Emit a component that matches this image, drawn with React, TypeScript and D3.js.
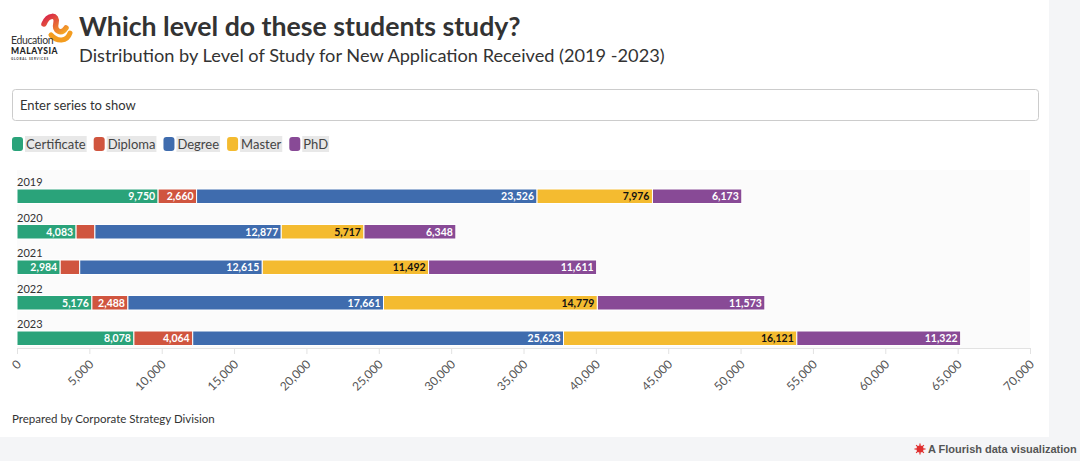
import React, { useEffect, useRef } from "react";
import * as d3 from "d3";

const years = ["2019", "2020", "2021", "2022", "2023"];
const seriesNames = ["Certificate", "Diploma", "Degree", "Master", "PhD"];
const seriesColors = ["#2aa37a", "#d0553f", "#3f6cae", "#f4bb30", "#884a96"];
const certificate = [9750, 4083, 2984, 5176, 8078];
const diploma = [2660, 1300, 1350, 2488, 4064];
const degree = [23526, 12877, 12615, 17661, 25623];
const master = [7976, 5717, 11492, 14779, 16121];
const phd = [6173, 6348, 11611, 11573, 11322];
const xTicks = [0, 5000, 10000, 15000, 20000, 25000, 30000, 35000, 40000, 45000, 50000, 55000, 60000, 65000, 70000];

const FONT = "Lato, 'Noto Sans', sans-serif";

export default function App() {
  const ref = useRef<SVGSVGElement>(null);

  useEffect(() => {
    const svg = d3.select(ref.current);
    svg.selectAll("*").remove();
    const W = 1080, H = 461;

    // page background and card
    svg.append("rect").attr("width", W).attr("height", H).attr("fill", "#f4f5f7");
    svg.append("rect").attr("x", 0).attr("y", 0).attr("width", 1049).attr("height", 437).attr("fill", "#ffffff");

    // logo
    const logo = svg.append("g");
    const grad = svg.append("defs").append("linearGradient").attr("id", "lg").attr("x1", "0").attr("y1", "0").attr("x2", "1").attr("y2", "1");
    grad.append("stop").attr("offset", "0").attr("stop-color", "#d8234a");
    grad.append("stop").attr("offset", "1").attr("stop-color", "#f5a623");
    logo.append("path").attr("d", "M44,24 C48,14 58,14 56,23 C54,31 61,35 66,28").attr("fill", "none").attr("stroke", "url(#lg)").attr("stroke-width", 5.5).attr("stroke-linecap", "round");
    logo.append("path").attr("d", "M51,35 C57,42 67,42 70,33").attr("fill", "none").attr("stroke", "#f39c1f").attr("stroke-width", 5).attr("stroke-linecap", "round");
    logo.append("text").attr("x", 11).attr("y", 43.5).attr("font-family", FONT).attr("font-size", 10.5).attr("fill", "#333").attr("letter-spacing", -0.4).text("Education");
    logo.append("text").attr("x", 11).attr("y", 54).attr("font-family", FONT).attr("font-size", 8.5).attr("font-weight", 900).attr("fill", "#222").attr("letter-spacing", 0.6).text("MALAYSIA");
    logo.append("text").attr("x", 11).attr("y", 59.5).attr("font-family", FONT).attr("font-size", 3).attr("font-weight", 700).attr("fill", "#333").attr("letter-spacing", 0.8).text("GLOBAL SERVICES");

    // titles
    svg.append("text").attr("x", 79).attr("y", 36).attr("font-family", FONT).attr("font-size", 26.7).attr("font-weight", 700).attr("fill", "#333").text("Which level do these students study?");
    svg.append("text").attr("x", 79).attr("y", 62).attr("font-family", FONT).attr("font-size", 18.2).attr("fill", "#333").text("Distribution by Level of Study for New Application Received (2019 -2023)");

    // search box
    svg.append("rect").attr("x", 12.5).attr("y", 89.5).attr("width", 1026).attr("height", 31).attr("rx", 3).attr("fill", "#fff").attr("stroke", "#cccccc");
    svg.append("text").attr("x", 20).attr("y", 110).attr("font-family", FONT).attr("font-size", 13).attr("fill", "#333").text("Enter series to show");

    // legend
    let lx = 12;
    seriesNames.forEach((name, i) => {
      const g = svg.append("g");
      g.append("rect").attr("x", lx).attr("y", 137).attr("width", 11).attr("height", 14).attr("rx", 3).attr("fill", seriesColors[i]);
      const t = g.append("text").attr("x", lx + 14).attr("y", 149).attr("font-family", FONT).attr("font-size", 13).attr("fill", "#444").text(name);
      const w = (t.node() as SVGTextElement).getComputedTextLength();
      g.insert("rect", "text").attr("x", lx + 13).attr("y", 136).attr("width", w + 2).attr("height", 16).attr("fill", "#e8e8e8");
      lx += 14 + w + 2 + 6;
    });

    // plot area
    const x = d3.scaleLinear().domain([0, 70000]).range([17, 1030]);
    const y = d3.scaleBand().domain(years).range([171, 348.5]).paddingInner(0).paddingOuter(0);
    svg.append("rect").attr("x", 17).attr("y", 170).attr("width", 1013).attr("height", 178).attr("fill", "#fbfbfb");

    const series = [certificate, diploma, degree, master, phd];
    const rows = years.map((yr, i) => {
      const o: any = { year: yr };
      seriesNames.forEach((s, j) => (o[s] = series[j][i]));
      return o;
    });
    const stack = d3.stack().keys(seriesNames)(rows);

    years.forEach((yr) => {
      svg.append("text").attr("x", 17).attr("y", (y(yr) as number) + 15).attr("font-family", FONT).attr("font-size", 11).attr("fill", "#333").text(yr);
    });

    stack.forEach((layer, j) => {
      layer.forEach((d: any, i) => {
        const x0 = x(d[0]), x1 = x(d[1]);
        const by = (y(years[i]) as number) + 18;
        svg.append("rect").attr("x", x0).attr("y", by).attr("width", x1 - x0).attr("height", 14.5)
          .attr("fill", seriesColors[j]).attr("stroke", "#fff").attr("stroke-width", 1);
        const lbl = d3.format(",")(d[1] - d[0]);
        const t = svg.append("text").attr("x", x1 - 3).attr("y", by + 11).attr("text-anchor", "end")
          .attr("font-family", FONT).attr("font-size", 10.5).attr("font-weight", 700)
          .attr("fill", j === 3 ? "#111" : "#fff").text(lbl);
        const tw = (t.node() as SVGTextElement).getComputedTextLength();
        if (tw + 6 > x1 - x0) t.remove();
      });
    });

    // axis
    svg.append("line").attr("x1", 17).attr("x2", 1030).attr("y1", 348.5).attr("y2", 348.5).attr("stroke", "#e2e2e2");
    xTicks.forEach((v) => {
      svg.append("line").attr("x1", x(v) + 0.5).attr("x2", x(v) + 0.5).attr("y1", 348).attr("y2", 354).attr("stroke", "#e2e2e2");
      svg.append("text").attr("transform", `translate(${x(v) + 5},${365}) rotate(-45)`).attr("text-anchor", "end")
        .attr("font-family", FONT).attr("font-size", 12).attr("fill", "#555").text(d3.format(",")(v));
    });

    // footer
    svg.append("text").attr("x", 12).attr("y", 423).attr("font-family", FONT).attr("font-size", 11.5).attr("fill", "#333").text("Prepared by Corporate Strategy Division");

    // flourish credit
    const fg = svg.append("g").attr("transform", "translate(920,449)");
    fg.append("circle").attr("r", 3.5).attr("fill", "#e03030");
    for (let k = 0; k < 8; k++) {
      const a = (k * Math.PI) / 4;
      fg.append("line").attr("x1", 0).attr("y1", 0).attr("x2", 5.5 * Math.cos(a)).attr("y2", 5.5 * Math.sin(a)).attr("stroke", "#e03030").attr("stroke-width", 1.2);
    }
    svg.append("text").attr("x", 928).attr("y", 453).attr("font-family", "'Liberation Sans', Arial, sans-serif").attr("font-size", 11).attr("font-weight", 700).attr("fill", "#555").text("A Flourish data visualization");
  }, []);

  return (
    <div style={{ position: "absolute", left: 0, top: 0 }}>
      <svg ref={ref} width={1080} height={461} style={{ display: "block" }} />
    </div>
  );
}
